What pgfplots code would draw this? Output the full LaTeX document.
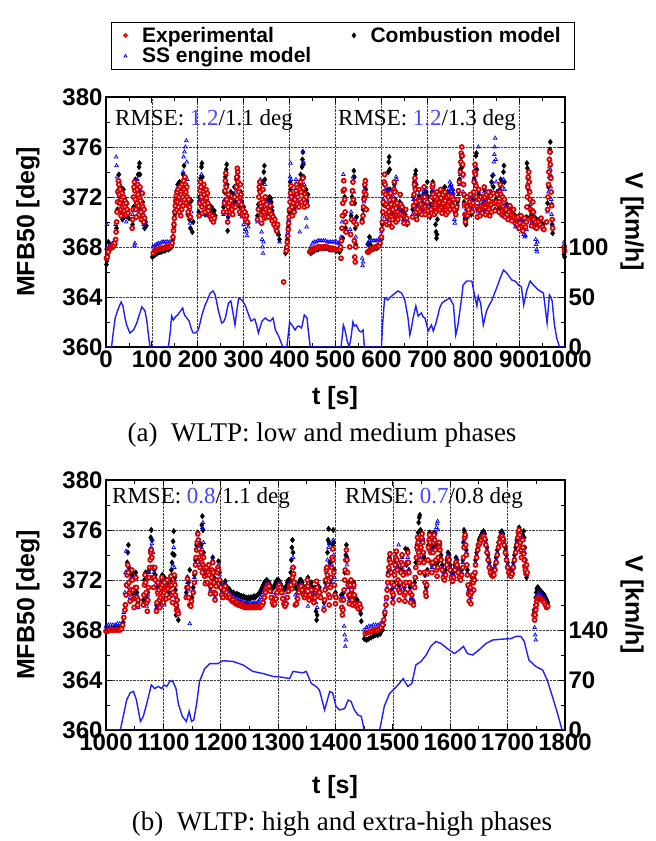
\documentclass[border=0pt]{standalone}
\usepackage{pgfplots}
\pgfplotsset{compat=1.18}
\usepackage{fontspec}
\setmainfont{Liberation Serif}
\setsansfont{Liberation Sans}
\definecolor{expred}{RGB}{215,0,0}
\definecolor{expfill}{RGB}{255,235,235}
\definecolor{ssblue}{RGB}{0,0,255}
\definecolor{vblue}{RGB}{30,30,255}
\definecolor{rmseblue}{RGB}{70,70,255}
\newcommand\lbl{\fontsize{24}{28}\selectfont\sffamily\bfseries}
\newcommand\rmse{\fontsize{23}{27}\selectfont\rmfamily}
\newcommand\capf{\fontsize{27}{31}\selectfont\rmfamily}
\pgfplotsset{
  mfb/.style={
    scale only axis, width=459pt, height=250pt, anchor=south west,
    ymin=360, ymax=380, ytick={360,364,...,380},
    minor x tick num=1, minor y tick num=1,
    grid=major, grid style={densely dotted, black!75, line width=0.7pt},
    axis line style={line width=1.1pt},
    every tick/.style={black, line width=0.9pt},
    major tick length=6pt, minor tick length=4pt,
    tick label style={font=\lbl},
    /pgf/number format/assume math mode=true,
    /pgf/number format/1000 sep={},
    clip=false,
  },
  spd/.style={
    scale only axis, width=459pt, height=250pt, anchor=south west,
    axis y line*=right, axis x line=none,
    axis line style={line width=1.1pt},
    every tick/.style={black, line width=0.9pt},
    major tick length=6pt,
    tick label style={font=\lbl},
    /pgf/number format/assume math mode=true,
    /pgf/number format/1000 sep={},
  },
  expst/.style={only marks, mark=*, mark size=2.0pt, mark options={draw=expred, fill=expfill, line width=1.7pt}},
  comst/.style={only marks, mark=diamond*, mark size=2.8pt, mark options={draw=black, fill=black}},
  ssst/.style={only marks, mark=triangle, mark size=2.1pt, mark options={draw=ssblue, line width=0.7pt}},
  vst/.style={vblue, line width=1.4pt, no marks},
}
\begin{document}
\begin{tikzpicture}
\path[use as bounding box] (0pt,0pt) rectangle (656pt,841pt);
% ================= TOP PANEL =================
\begin{axis}[mfb, at={(106pt,494pt)}, xmin=0, xmax=1000, xtick={0,100,...,1000},
  legend columns=2,
  legend image code/.code={\draw[mark repeat=2,mark phase=2,#1] plot coordinates {(0pt,0pt)(14pt,0pt)(28pt,0pt)};},
  legend style={at={(0.517,1.108)}, anchor=south, draw=black, line width=1pt,
    font=\fontsize{21}{24}\selectfont\sffamily\bfseries, inner xsep=12pt, inner ysep=3pt,
    /tikz/every odd column/.append style={column sep=13pt},
    /tikz/every even column/.append style={column sep=39pt},
    cells={anchor=west}},
]
\addlegendimage{only marks, mark=*, mark size=1.6pt, mark options={draw=expred, fill=expfill, line width=1.2pt}}\addlegendentry{Experimental}
\addlegendimage{only marks, mark=diamond*, mark size=2.2pt, mark options={draw=black, fill=black}}\addlegendentry{Combustion model}
\addlegendimage{only marks, mark=triangle, mark size=1.8pt, mark options={draw=ssblue, line width=0.7pt}}\addlegendentry{SS engine model}
% Combustion model
\addplot[comst, forget plot] coordinates {
(1,366.6)(2,366.9)(4,367.3)(5,368.4)(8,367.8)(12,367.9)(16,368.0)(20,368.2)
(23,369.5)(25,371.0)(27,372.5)(28,373.8)(29,373.2)(30,372.0)(31,371.0)(32,372.8)(33,370.5)(34,372.2)(35,371.2)(36,370.2)(37,371.8)(38,372.6)(39,371.2)(40,370.4)(41,371.9)(42,371.0)(44,370.5)(46,371.5)(48,370.8)(50,370.3)
(58,369.8)(60,371.2)(62,372.6)(64,373.4)(66,371.2)(68,372.8)(70,373.8)(72,374.4)(73,374.7)(74,373.8)(75,372.4)(76,371.0)(78,370.2)(80,371.6)(82,370.4)(84,369.5)(86,370.0)(88,369.7)
(101,367.2)(104,367.3)(108,367.4)(112,367.5)(116,367.6)(120,367.6)(124,367.7)(128,367.7)(132,367.8)(136,367.8)(140,367.9)(143,368.0)
(146,368.6)(148,369.6)(150,370.6)(152,371.6)(154,372.4)(156,373.0)(158,372.0)(160,373.2)(162,371.4)(164,373.0)(166,372.0)(168,373.8)(170,374.5)(172,373.5)(174,372.6)(176,371.8)(178,370.6)(180,371.5)(182,370.2)(184,369.5)(186,371.7)(188,369.2)(190,370.0)
(202,370.8)(204,372.0)(206,373.5)(208,374.4)(209,374.7)(210,373.6)(212,372.6)(214,371.6)(216,370.6)(218,372.2)(220,371.2)(222,370.6)(224,371.4)(226,371.0)(228,370.8)(230,371.2)(232,370.9)(234,370.6)(236,370.9)(238,370.5)
(256,371.2)(258,372.4)(260,373.6)(262,374.2)(263,374.6)(264,373.0)(265,369.3)(266,370.4)(268,372.0)(270,371.4)(272,372.4)(274,371.6)(276,371.0)(278,372.2)(280,372.8)(282,371.6)(284,373.4)(286,374.0)(288,373.6)(290,372.0)(292,371.2)(294,372.4)(296,371.6)(298,371.0)(300,371.2)(302,370.6)(304,370.8)(306,370.4)(308,370.0)(310,369.9)
(330,370.5)(332,371.4)(334,372.5)(336,373.0)(338,371.6)(340,371.0)(342,373.2)(344,374.0)(345,374.5)(346,373.4)(348,372.0)(350,371.2)(352,371.8)(354,371.4)(356,372.0)(357,371.8)(358,371.5)(359,371.9)(360,371.6)(361,371.2)(362,370.9)(363,370.6)(364,370.4)(366,370.1)(368,369.8)(370,369.5)(372,369.4)(374,369.2)(376,369.0)(378,368.6)
(391,367.5)(393,367.9)(395,368.6)(397,369.6)(399,370.8)(401,373.2)(402,372.6)(404,371.0)(406,370.6)(408,371.8)(410,371.0)(412,372.2)(414,373.0)(416,372.0)(418,371.4)(420,372.4)(422,373.0)(424,373.8)(426,372.6)(427,374.4)(428,375.0)(429,375.6)(430,374.6)(431,373.6)(432,372.4)(434,371.8)(436,372.6)(438,371.6)(440,372.2)
(446,367.5)(450,367.6)(454,367.7)(458,367.8)(462,367.8)(466,367.9)(470,367.9)(474,367.9)(478,367.9)(482,367.9)(486,367.8)(490,367.8)(494,367.8)(498,367.8)(502,367.7)(506,367.7)(509,367.6)
(512,367.8)(514,368.6)(516,368.7)(518,370.5)(520,372.0)(522,369.5)(532,369.0)(534,370.5)(536,372.0)(538,373.2)(540,374.1)(541,373.6)(542,371.5)(543,369.5)(544,368.2)(546,370.4)(558,370.2)(560,371.0)(562,372.0)(564,372.8)(565,373.3)(566,372.6)(568,371.0)
(571,368.2)(574,368.8)(576,368.2)(579,367.9)(582,367.8)(586,367.9)(590,367.9)(594,368.0)(597,368.2)
(600,368.6)(602,369.8)(604,371.4)(606,373.0)(608,373.8)(610,372.4)(612,370.6)(614,372.6)(615,374.0)(616,374.8)(617,375.2)(618,374.2)(619,372.6)(620,371.2)(622,370.8)(624,370.4)(626,371.6)(628,373.0)(630,371.8)(632,370.4)(634,371.4)(636,370.8)(638,371.2)(640,371.6)(642,371.2)(644,370.8)(646,371.1)(648,370.6)(650,370.2)(652,370.6)(654,370.2)(656,369.8)
(668,371.0)(670,372.0)(672,373.2)(674,373.8)(675,374.1)(676,373.0)(678,371.4)(680,370.6)(682,372.0)(684,371.4)(686,370.8)(688,371.6)(690,371.0)(692,372.2)(694,372.8)(696,371.4)(698,372.4)(700,373.2)(702,372.0)(704,370.8)(706,370.4)
(708,371.4)(710,372.4)(712,373.2)(714,371.8)(716,370.8)(718,369.8)(719,369.2)(720,368.7)(721,369.0)(722,370.2)(724,371.6)(726,372.2)(728,371.6)(730,372.4)(732,371.2)(734,372.6)(736,371.4)(738,372.8)(740,372.2)(742,371.0)(744,372.4)(746,371.6)(748,372.0)(750,371.2)(752,371.6)(754,372.2)(756,371.4)(758,371.8)(760,370.8)
(764,371.0)(766,371.6)(768,372.4)(770,373.4)(772,374.2)(774,375.2)(776,374.4)(778,373.0)(780,371.6)(782,370.2)(784,369.8)(786,371.0)(788,370.4)(790,371.4)(792,372.0)(794,371.2)(796,370.6)
(800,371.8)(802,373.4)(804,374.6)(806,375.3)(807,375.5)(808,374.2)(809,372.0)(810,370.4)(812,372.2)(814,371.2)(816,370.8)(818,372.0)(820,371.0)
(822,371.4)(824,372.6)(826,371.8)(828,370.9)(830,372.0)(832,371.4)(834,372.2)(836,371.0)(838,372.4)(840,373.2)(842,373.7)(844,372.8)(846,371.6)(848,371.0)(850,371.8)(852,372.4)(854,371.6)
(856,371.0)(858,372.6)(860,373.4)(862,372.0)(864,373.2)(866,374.0)(867,374.5)(868,373.2)(870,371.2)(872,370.8)(874,371.4)(876,371.0)(878,370.6)(880,371.2)(882,370.8)(884,370.5)(886,371.0)(888,370.6)(890,370.2)(892,370.5)(894,370.0)
(896,370.3)(898,369.8)(900,370.5)(902,370.2)(904,369.7)(906,370.0)(908,369.6)(910,370.1)(912,369.5)(914,369.9)(916,370.4)
(917,374.7)(918,374.3)(919,373.5)(920,372.6)(922,371.2)(924,370.4)(926,370.8)(928,370.2)(930,370.6)(932,370.0)(934,369.8)(936,370.3)(938,369.8)(940,370.0)(944,370.2)(948,370.0)(952,369.8)
(962,371.5)(964,372.8)(965,374.0)(966,375.0)(967,375.8)(968,376.4)(969,375.6)(970,373.6)(971,371.4)(972,369.8)(973,369.1)
(998,367.4)(999,367.2)
};
% SS engine model
\addplot[ssst, forget plot] coordinates {
(1,367.9)(2,369.8)(3,367.8)(6,367.9)(10,368.2)(14,368.3)(18,368.4)(21,369.8)
(22,375.2)(23,374.5)(24,373.6)(26,372.6)(28,371.6)(30,373.0)(32,372.0)(34,370.8)(36,372.4)(38,371.2)(40,370.4)(42,371.6)(44,370.0)(46,370.6)
(56,369.6)(58,370.6)(60,372.0)(62,368.1)(63,368.3)(64,371.8)(66,372.8)(68,373.4)(70,372.2)(72,371.0)(74,372.6)(76,371.4)(78,370.4)(80,370.8)(82,369.8)(84,369.6)(86,369.9)
(102,368.0)(106,368.1)(110,368.2)(114,368.3)(118,368.3)(122,368.4)(126,368.4)(130,368.4)(134,368.4)(138,368.4)(142,368.4)
(146,368.9)(148,370.0)(150,371.0)(152,372.0)(154,372.6)(156,371.6)(158,372.8)(160,371.8)(162,372.6)(164,371.4)(166,373.0)(168,374.0)(169,375.2)(171,375.6)(173,376.0)(175,376.5)(176,374.8)(177,373.4)(178,372.0)(180,370.8)(182,371.4)(183,369.9)(186,370.8)
(202,370.6)(204,371.8)(206,373.2)(208,373.8)(210,372.8)(212,371.6)(214,370.8)(216,372.0)(218,371.0)(220,370.5)(222,371.6)(224,370.8)(226,370.6)(228,370.4)(230,370.6)(234,370.4)
(256,370.6)(258,371.8)(260,373.0)(262,373.8)(264,372.2)(266,370.4)(268,371.4)(270,372.0)(274,370.8)(278,371.6)(282,372.4)(284,373.0)(286,373.8)(288,372.8)(290,371.4)(292,370.6)(294,371.8)(296,370.4)(300,369.8)(304,369.4)(306,369.2)(307,368.9)(310,369.6)
(330,370.0)(332,371.2)(334,372.6)(336,373.4)(338,371.0)(339,369.2)(340,368.6)(341,368.0)(342,367.5)(343,368.4)(344,371.6)(346,373.0)(348,371.8)(350,370.8)(352,371.4)(354,370.6)(356,371.6)(358,371.0)(360,370.4)(362,370.8)(364,370.2)(366,369.8)(368,370.0)(370,369.4)(372,369.2)(374,369.6)(376,369.0)(378,368.4)
(392,367.8)(394,368.4)(396,369.2)(398,370.2)(400,372.0)(401,373.6)(402,374.7)(403,373.4)(404,372.2)(406,371.0)(408,372.0)(410,371.2)(412,372.6)(414,373.4)(416,372.4)(418,371.6)(420,372.6)(422,369.2)(424,373.4)(426,372.8)(428,374.6)(429,375.6)(430,374.8)(432,373.0)(434,372.0)(436,370.3)(437,369.6)(438,371.8)
(446,368.0)(450,368.3)(454,368.4)(458,368.4)(462,368.5)(466,368.5)(470,368.5)(474,368.5)(478,368.5)(482,368.4)(486,368.4)(490,368.4)(494,368.4)(498,368.4)(502,368.4)(506,368.3)(509,368.3)
(512,368.8)(514,370.0)(516,372.4)(517,373.8)(518,372.6)(520,370.6)(522,369.2)(532,369.4)(534,370.8)(536,372.4)(538,373.6)(540,372.4)(542,370.2)(544,368.8)(558,367.1)(559,366.5)(560,366.8)(561,370.6)(562,371.6)(564,372.6)(566,372.0)
(570,368.3)(574,368.5)(578,368.5)(582,368.5)(586,368.5)(590,368.5)(594,368.6)(597,368.6)
(600,369.2)(602,370.4)(604,371.8)(606,373.0)(608,372.6)(610,371.2)(612,370.2)(614,371.6)(616,372.6)(618,371.0)(620,372.0)(622,370.6)(624,371.2)(626,372.0)(628,372.8)(630,373.2)(632,373.6)(633,373.4)(634,372.4)(636,371.0)(638,370.6)(640,371.6)(642,370.8)(645,371.4)(648,370.2)(651,370.6)(654,369.8)(656,370.2)
(668,370.6)(670,371.8)(672,372.8)(674,373.2)(676,371.2)(678,370.6)(680,371.8)(682,372.2)(684,371.2)(686,371.8)(688,371.0)(690,371.6)(692,372.4)(694,372.6)(696,372.0)(698,371.4)(700,372.0)(702,371.2)(704,370.8)
(708,371.2)(710,372.2)(712,372.6)(714,371.6)(716,370.6)(718,371.4)(720,372.0)(722,371.4)(724,372.0)(726,371.2)(728,372.0)(730,371.6)(732,372.2)(734,371.4)(736,372.0)(738,371.6)(740,370.8)(742,371.6)(744,372.0)(746,372.4)(748,372.8)(749,373.2)(750,372.9)(751,372.6)(752,373.0)(753,372.4)(754,372.7)(755,372.2)(756,372.6)(757,372.3)(758,372.0)(759,370.2)(760,369.9)
(766,371.4)(768,372.2)(770,373.0)(772,373.8)(774,374.6)(776,373.6)(778,372.4)(780,371.2)(782,370.4)(784,370.0)(786,371.0)(790,371.4)(794,371.8)(798,371.0)
(800,372.0)(802,373.6)(804,374.2)(806,373.2)(808,371.8)(810,370.8)(811,376.0)(812,372.4)(814,371.4)(816,371.0)(818,371.8)(820,371.2)
(822,371.6)(824,372.4)(826,371.6)(828,371.0)(830,371.8)(832,372.2)(834,371.4)(836,370.8)(838,371.6)(840,372.4)(842,373.0)(844,373.8)(845,374.8)(846,375.4)(847,376.0)(848,376.7)(849,375.0)(850,373.2)(852,372.4)(854,371.6)
(856,371.2)(858,372.4)(860,373.0)(862,372.2)(864,372.8)(866,373.4)(868,372.6)(870,371.4)(872,370.8)(874,371.2)(876,370.6)(878,371.0)(880,370.8)(882,370.4)(884,370.6)(886,371.0)(888,370.4)(890,370.0)(892,369.6)(894,369.8)
(896,369.6)(898,370.0)(900,369.4)(902,369.8)(904,370.2)(906,369.6)(908,369.2)(910,369.0)(912,368.8)(914,368.9)(916,369.4)
(918,373.0)(920,373.6)(922,372.6)(924,371.4)(926,370.6)(928,370.0)(930,370.8)(932,370.2)(934,369.6)(936,368.6)(937,368.2)(938,367.8)(939,367.6)(940,368.4)(944,369.8)(948,369.6)(952,369.4)
(962,370.8)(964,372.4)(965,373.6)(966,374.4)(967,375.0)(968,374.2)(969,372.8)(970,371.8)(971,370.6)(972,369.8)
(998,368.4)(999,368.2)
};
% Experimental
\addplot[expst, forget plot] coordinates {
(1,367.1)(3,367.2)(5,367.6)(7,367.9)(9,368.0)(11,368.0)(13,368.0)(15,368.1)(17,368.1)(19,368.3)(21,368.6)
(22,369.2)(23,370.0)(24,370.8)(25,371.6)(26,372.4)(27,373.3)(28,373.0)(29,372.2)(30,371.5)(31,372.6)(32,371.0)(33,370.5)(34,371.8)(35,372.3)(36,371.2)(37,370.8)(38,372.0)(39,371.4)(40,370.9)(41,371.7)(42,371.2)(43,370.6)(44,371.5)(46,371.0)(48,370.7)
(57,369.5)(58,370.2)(59,371.0)(60,372.0)(61,372.8)(62,373.2)(63,372.5)(64,371.8)(65,371.0)(66,370.4)(67,371.5)(68,372.6)(69,373.0)(70,372.2)(71,371.3)(72,370.6)(73,371.9)(74,372.8)(75,371.7)(76,370.8)(77,370.2)(78,371.4)(79,372.3)(80,371.2)(81,370.5)(82,370.0)(83,371.0)(84,370.3)
(103,367.5)(106,367.7)(109,367.8)(112,367.8)(115,367.8)(118,367.9)(121,367.9)(124,367.9)(127,367.9)(130,368.0)(133,368.0)(136,368.0)(139,368.0)(142,368.1)
(144,368.3)(146,368.8)(147,369.3)(148,369.8)(149,370.3)(150,370.8)(151,371.3)(152,371.7)(153,372.1)(154,371.0)(155,372.4)(156,371.6)(157,372.6)(158,371.2)(159,372.0)(160,370.8)(161,372.8)(162,371.5)(163,370.5)(164,372.2)(165,371.0)(166,373.0)(167,372.0)(168,371.3)(169,373.3)(170,372.6)(171,371.8)(172,373.6)(173,373.0)(174,372.4)(175,371.5)(176,372.8)(177,372.0)(178,371.3)(179,370.8)(180,371.8)(181,370.5)(182,371.2)(184,370.4)
(203,370.5)(204,371.5)(205,372.5)(206,373.2)(207,372.8)(208,372.0)(209,371.2)(210,370.7)(211,371.6)(212,372.4)(213,373.0)(214,372.2)(215,371.4)(216,370.8)(217,371.8)(218,372.6)(219,371.9)(220,371.0)(221,372.3)(222,371.5)(223,370.9)(224,371.2)(226,370.6)(228,370.4)(230,370.2)(232,370.5)(234,370.0)(236,370.3)
(256,370.8)(258,371.5)(259,372.5)(260,373.3)(261,373.9)(262,372.8)(263,371.8)(264,370.8)(265,370.0)(266,371.2)(267,372.2)(268,371.5)(270,370.8)(272,371.7)(274,371.0)(276,370.6)(278,371.3)(280,372.0)(282,371.2)(284,372.8)(285,373.6)(286,374.3)(287,374.0)(288,373.2)(289,372.4)(290,371.6)(291,370.8)(292,372.0)(293,373.0)(294,372.2)(295,371.4)(296,370.6)(298,371.0)(300,370.5)(302,370.8)(304,370.2)(306,370.5)(308,370.0)
(330,370.2)(332,371.0)(333,372.0)(334,372.8)(335,373.2)(336,372.4)(337,371.5)(338,370.6)(339,369.9)(340,370.8)(341,371.8)(342,372.6)(343,371.6)(344,370.8)(345,370.3)(346,371.2)(347,372.0)(348,371.0)(349,370.4)(350,371.4)(352,370.8)(354,370.4)(356,370.9)(358,371.3)(360,370.6)(362,370.1)(364,370.4)(366,369.8)(368,370.2)(370,369.6)(372,369.3)(374,369.8)
(387,365.2)
(393,367.7)(394,368.0)(395,368.4)(396,368.9)(397,369.4)(398,369.9)(399,370.4)(400,371.0)(401,371.6)(402,372.3)(403,372.9)(404,372.0)(405,371.2)(406,370.5)(408,371.5)(410,370.8)(412,371.8)(414,372.5)(415,373.0)(416,372.2)(417,371.4)(418,372.0)(420,371.2)(422,372.6)(424,373.2)(425,372.4)(426,371.6)(428,372.8)(429,373.5)(430,372.7)(431,371.8)(432,371.2)(433,372.2)(434,371.5)(436,372.0)(438,371.3)
(444,367.6)(446,367.7)(449,367.8)(452,367.9)(455,367.9)(458,367.9)(461,368.0)(464,368.0)(467,368.0)(470,367.9)(473,368.0)(476,368.0)(479,368.0)(482,368.0)(485,367.9)(488,367.9)(491,367.9)(494,367.9)(497,367.8)(500,367.8)(503,367.8)(506,367.8)(509,367.8)
(511,368.0)(512,367.1)(513,368.5)(514,369.5)(515,370.5)(516,371.5)(517,372.5)(518,373.3)(519,372.6)(520,371.8)(521,370.8)(522,370.0)(523,369.2)
(531,368.0)(533,369.0)(535,370.2)(536,371.5)(537,372.5)(538,373.2)(539,371.8)(540,370.0)(541,368.5)(542,367.2)(543,366.8)(544,368.0)(545,369.8)
(558,370.0)(560,370.5)(561,371.2)(562,371.8)(563,372.4)(564,373.0)(565,373.3)(566,372.2)(567,371.0)
(570,367.6)(572,367.6)(574,367.7)(576,367.8)(578,367.8)(580,367.9)(583,367.9)(586,368.0)(589,368.0)(592,368.1)(595,368.1)(597,368.3)
(600,368.8)(601,369.4)(602,370.0)(603,370.8)(604,371.6)(605,372.4)(606,373.2)(607,373.8)(608,373.0)(609,372.2)(610,371.4)(611,370.6)(612,369.8)(613,370.4)(614,371.2)(615,372.0)(616,370.8)(617,369.9)(618,370.5)(619,371.5)(620,372.3)(621,371.4)(622,370.4)(623,369.6)(624,370.2)(625,371.0)(626,371.8)(627,372.6)(628,373.2)(629,372.4)(630,371.4)(631,370.6)(632,370.0)(633,370.6)(634,371.5)(635,370.8)(636,370.2)(638,370.6)(640,371.3)(641,372.2)(642,371.4)(643,370.6)(645,371.2)(647,370.5)(649,369.9)(651,370.4)(653,371.0)(655,370.3)(657,369.9)
(668,370.4)(670,371.3)(671,372.2)(672,373.0)(673,373.5)(674,372.6)(675,371.6)(676,370.8)(677,370.2)(679,371.0)(681,371.8)(682,372.6)(683,371.7)(684,370.8)(686,371.4)(688,370.6)(690,371.2)(692,372.0)(693,372.8)(694,372.0)(695,371.2)(696,370.6)(698,371.0)(700,371.6)(702,370.9)(704,370.5)
(708,371.0)(710,372.0)(711,372.8)(712,373.0)(713,372.2)(714,371.4)(715,370.6)(716,371.2)(717,372.0)(718,371.4)(719,370.8)(720,371.6)(721,372.4)(722,371.8)(723,371.0)(724,371.5)(725,372.2)(726,371.6)(727,371.0)(728,371.8)(729,372.6)(730,371.9)(731,371.2)(732,370.7)(733,371.4)(734,372.2)(735,371.5)(736,371.0)(737,371.8)(738,372.4)(739,371.7)(740,371.0)(741,370.6)(742,371.2)(743,372.0)(744,371.4)(745,370.8)(746,371.3)(747,372.1)(748,371.6)(749,371.0)(751,371.4)(753,372.0)(755,371.3)(757,371.8)(759,371.0)
(762,370.6)(764,371.2)(766,371.8)(768,372.5)(770,373.2)(772,374.0)(773,374.8)(774,375.5)(775,376.0)(776,375.3)(777,374.6)(778,373.8)(779,373.0)(780,372.2)(781,371.4)(782,370.6)(783,370.0)(784,370.6)(785,371.3)(786,372.0)(787,371.2)(788,370.5)(790,371.0)(792,371.6)(794,372.2)(796,371.4)(798,370.8)
(800,371.5)(801,372.4)(802,373.2)(803,374.0)(804,374.6)(805,373.8)(806,372.9)(807,372.0)(808,371.2)(809,370.4)(810,371.0)(811,371.8)(812,372.6)(813,371.8)(814,371.0)(815,370.5)(816,371.2)(817,372.0)(818,371.3)(820,370.7)
(822,371.2)(823,372.0)(824,372.8)(825,372.0)(826,371.2)(827,370.6)(828,371.4)(829,372.2)(830,371.5)(831,370.8)(832,371.6)(833,372.4)(834,371.7)(835,371.0)(836,370.5)(837,371.3)(838,372.1)(839,371.4)(840,370.8)(842,371.6)(844,372.3)(846,371.5)(848,370.9)(850,371.6)(852,372.2)(854,371.4)
(856,370.8)(857,371.6)(858,372.4)(859,373.0)(860,372.2)(861,371.4)(862,370.6)(863,371.2)(864,372.0)(865,371.2)(866,370.5)(867,371.0)(868,371.8)(869,371.0)(870,370.4)(872,371.0)(874,370.6)(876,370.2)(878,370.8)(880,371.3)(882,370.6)(884,370.1)(886,370.5)(888,371.0)(890,370.4)(892,369.9)(894,370.3)
(896,369.8)(898,370.4)(900,369.5)(902,369.9)(904,370.5)(906,369.7)(908,369.3)(910,369.8)(912,370.3)(914,369.6)(916,370.0)
(917,371.2)(918,372.0)(919,372.8)(920,373.6)(921,374.0)(922,373.2)(923,372.4)(924,371.8)(925,371.0)(926,370.3)(927,369.7)(928,370.2)(929,370.9)(930,371.6)(931,370.8)(932,370.2)(934,369.6)(936,370.0)(938,369.5)
(942,370.0)(945,369.8)(948,370.3)(951,369.6)(954,369.4)
(960,370.0)(962,371.0)(963,372.0)(964,373.0)(965,374.0)(966,375.0)(967,375.6)(968,374.6)(969,373.5)(970,372.4)(971,371.3)(972,370.2)(973,369.5)
(998,368.0)(999,367.7)
};
\end{axis}
\begin{axis}[spd, at={(106pt,494pt)}, xmin=0, xmax=1000, ymin=0, ymax=250, ytick={0,50,100}]
\addplot[vst] coordinates {
(0,0)(12,0)(16,15)(20,29)(25,36)(30,42)(33,45)(37,41)(41,30)(45,22)(52,14)(60,17)(67,24)(73,33)(78,40)(82,38)(85,36)(89,26)(93,10)(96,0)(136,0)(140,15)(143,31)(147,27)(151,30)(156,32)(161,35)(167,39)(171,32)(176,29)(181,26)(186,18)(190,14)(195,14)(201,17)(205,24)(209,32)(216,42)(222,48)(227,54)(233,56)(238,52)(245,36)(252,24)(256,25)(260,29)(264,38)(267,44)(272,46)(276,36)(281,22)(285,36)(289,49)(296,47)(303,42)(311,32)(316,26)(324,28)(328,22)(332,14)(336,20)(340,26)(347,29)(352,27)(358,26)(364,29)(369,17)(376,11)(381,5)(385,0)(394,0)(397,12)(400,25)(405,22)(412,17)(416,20)(420,21)(426,19)(429,25)(432,32)(438,29)(441,15)(445,0)(512,0)(515,12)(517,22)(520,18)(522,14)(526,5)(530,0)(534,10)(538,25)(541,21)(545,22)(552,16)(556,15)(560,17)(563,0)(600,0)(603,25)(607,49)(614,47)(620,50)(625,52)(636,56)(644,54)(651,47)(658,29)(662,12)(665,18)(669,29)(675,41)(680,31)(687,34)(691,30)(695,29)(702,16)(709,22)(713,16)(719,24)(727,39)(732,44)(738,46)(749,49)(757,42)(762,12)(766,20)(771,36)(775,50)(778,62)(786,66)(797,66)(802,54)(808,41)(811,51)(816,44)(822,22)(829,36)(835,42)(840,46)(851,59)(859,69)(866,77)(873,74)(884,67)(891,66)(899,62)(905,60)(910,42)(917,57)(924,66)(931,62)(942,57)(953,54)(961,24)(966,52)(969,50)(972,46)(977,22)(982,9)(988,0)(1000,0)
};
\end{axis}
% ================= BOTTOM PANEL =================
\begin{axis}[mfb, at={(106pt,111pt)}, xmin=1000, xmax=1800, xtick={1000,1100,...,1800}]
\addplot[comst] coordinates {
(1000,368.0)(1005,368.1)(1010,368.1)(1015,368.2)(1020,368.2)(1025,368.2)(1030,368.6)
(1033,370.0)(1035,371.6)(1037,373.4)(1038,374.2)(1039,374.8)(1040,373.0)(1042,371.0)(1044,372.6)(1046,372.4)(1048,370.8)(1050,371.2)(1052,372.6)(1054,371.0)(1056,370.2)
(1065,370.4)(1067,372.0)(1069,372.6)(1071,370.6)(1073,371.0)(1075,372.8)(1077,374.4)(1078,375.4)(1079,376.0)(1080,375.2)(1082,373.0)(1084,372.8)(1086,372.4)
(1088,370.0)(1090,371.4)(1092,371.8)(1094,370.2)(1096,371.8)(1098,372.4)(1100,371.2)(1102,372.2)(1104,371.6)(1106,371.8)(1108,371.6)(1110,371.0)(1112,372.0)(1114,372.8)(1115,373.4)(1116,374.1)(1117,375.1)(1118,375.9)(1119,374.0)(1120,372.2)(1121,371.2)(1122,369.2)(1124,370.0)(1126,368.8)
(1140,371.0)(1142,372.2)(1144,371.8)(1146,372.8)(1148,370.4)(1150,370.6)
(1152,371.4)(1154,372.4)(1156,373.6)(1158,374.8)(1160,375.8)(1162,375.0)(1164,373.6)(1166,374.8)(1167,376.4)(1168,377.1)(1169,376.0)(1170,374.2)(1172,372.8)(1174,373.0)(1176,372.8)(1178,373.2)(1180,372.8)
(1182,371.4)(1184,372.6)(1186,373.8)(1188,372.2)(1190,370.8)(1192,371.9)(1194,372.8)(1196,373.5)
(1198,372.6)(1200,371.8)(1202,371.2)(1204,371.2)(1206,371.6)(1208,371.9)(1210,371.5)(1212,371.2)(1214,371.3)(1216,371.2)(1218,371.0)(1220,370.9)(1222,371.0)(1224,370.9)(1226,370.8)(1228,370.9)(1230,370.8)(1232,370.8)(1234,370.7)(1236,370.7)(1238,370.6)(1240,370.7)(1242,370.6)(1244,370.6)(1246,370.5)(1248,370.6)(1250,370.5)(1252,370.6)(1254,370.6)(1256,370.6)(1258,370.7)(1260,370.6)(1262,370.7)(1264,370.8)(1266,370.9)(1268,371.0)(1270,371.2)(1272,371.4)(1274,371.6)(1276,371.8)(1278,371.9)(1280,372.0)(1282,371.9)(1284,371.8)(1286,371.6)(1288,371.4)(1290,371.3)(1292,371.4)(1294,371.6)(1296,371.8)(1298,372.0)(1300,372.0)(1302,371.9)(1304,371.7)(1306,371.5)(1308,371.3)(1310,371.2)(1312,371.3)(1314,371.5)(1316,371.8)(1318,372.0)(1320,372.0)(1322,372.6)(1323,373.6)(1324,374.6)(1325,375.2)(1326,374.2)(1327,373.0)(1328,371.8)(1330,371.4)(1332,371.3)(1334,371.5)(1336,371.8)(1338,372.0)(1340,372.0)(1342,371.8)(1344,371.5)(1346,371.3)(1348,371.4)(1350,372.0)(1352,372.2)(1354,371.4)(1356,371.6)(1358,371.8)(1360,371.4)(1362,371.2)(1364,371.4)(1366,369.5)(1367,368.8)(1368,369.2)(1370,371.5)(1372,371.4)(1374,371.0)
(1380,370.2)(1382,371.8)(1384,373.0)(1386,374.2)(1387,375.2)(1388,376.1)(1389,375.0)(1390,373.4)(1392,372.0)(1394,373.6)(1395,374.8)(1396,376.0)(1397,375.0)(1398,372.8)(1400,371.0)
(1410,370.8)(1412,369.8)(1414,371.0)(1416,372.6)(1418,374.0)(1419,374.8)(1420,373.8)(1422,371.8)(1424,370.6)(1426,371.8)(1428,371.0)(1430,370.6)(1432,371.8)(1434,370.6)(1436,370.4)(1438,370.4)(1440,370.0)(1442,369.6)(1444,369.3)(1445,368.7)
(1450,367.3)(1454,367.2)(1458,367.3)(1462,367.4)(1466,367.5)(1470,367.6)(1474,367.6)(1478,367.7)(1482,368.0)
(1484,368.4)(1486,369.2)(1488,370.0)(1490,371.2)(1492,372.6)(1494,373.8)(1496,372.6)(1498,371.2)(1500,370.6)(1502,371.8)(1504,373.4)(1506,374.2)(1508,373.0)(1510,371.6)(1512,371.2)(1514,372.8)(1516,374.0)(1518,372.6)(1520,371.4)(1522,374.5)(1524,373.2)(1526,374.4)(1528,372.8)(1530,371.4)(1532,370.4)(1534,371.6)(1536,370.2)
(1538,371.8)(1540,373.4)(1542,374.8)(1544,375.8)(1545,376.6)(1546,377.0)(1547,377.2)(1548,376.0)(1550,375.8)(1552,375.2)(1554,373.8)(1556,372.4)(1558,371.4)(1560,372.8)(1562,374.8)(1564,375.8)(1566,374.6)(1568,373.2)(1570,374.6)(1572,375.8)(1574,374.8)(1576,373.2)(1578,373.4)(1580,374.8)(1582,374.8)
(1584,374.0)(1586,373.2)(1588,372.6)(1590,372.3)(1592,372.8)(1594,373.6)(1596,374.2)(1598,374.0)(1600,373.2)(1602,372.6)(1604,372.3)(1606,372.6)(1608,373.2)(1610,373.8)(1612,373.6)(1614,373.0)(1616,372.6)(1618,372.4)(1620,372.8)
(1622,373.6)(1623,375.0)(1624,376.0)(1625,375.8)(1626,375.4)(1628,374.4)(1630,372.8)(1632,371.4)(1634,371.4)(1636,370.8)(1638,372.2)(1640,372.2)(1642,372.4)(1644,373.6)
(1646,374.2)(1648,374.8)(1650,375.2)(1652,375.4)(1654,375.6)(1656,375.8)(1658,375.9)(1660,375.7)(1662,375.2)(1664,374.6)(1666,374.0)(1668,373.4)(1670,373.0)(1672,372.8)(1674,372.6)(1676,372.8)(1678,373.2)(1680,373.8)(1682,374.4)(1684,375.0)(1686,375.4)(1688,375.8)(1690,375.9)(1692,375.7)(1694,375.2)(1696,374.6)(1698,374.0)(1700,373.4)(1702,373.0)(1704,372.8)(1706,372.6)(1708,372.8)(1710,373.4)(1712,374.0)(1714,374.6)(1716,375.2)(1718,375.8)(1720,376.2)(1722,375.6)(1724,374.6)(1726,375.6)(1728,375.9)(1729,375.4)(1730,374.6)(1731,373.6)(1732,372.8)(1733,372.2)
(1746,369.6)(1747,369.4)(1748,370.0)(1749,370.6)(1750,371.0)(1751,371.3)(1752,371.4)(1753,371.4)(1754,371.3)(1756,371.2)(1758,371.1)(1760,371.0)(1762,370.9)(1764,370.8)(1766,370.6)(1768,370.4)(1770,370.2)
};
\addplot[ssst] coordinates {
(1000,368.3)(1004,368.4)(1008,368.4)(1012,368.4)(1016,368.4)(1020,368.5)(1024,368.5)(1028,368.5)
(1031,369.4)(1033,371.0)(1034,372.6)(1035,374.3)(1036,372.4)(1038,372.8)(1040,371.4)(1042,370.6)(1044,372.2)(1046,372.0)(1048,370.4)(1050,371.0)(1052,372.0)(1054,370.8)(1056,369.8)
(1065,370.2)(1067,371.8)(1069,372.0)(1071,369.9)(1073,370.8)(1075,372.6)(1077,373.8)(1079,374.6)(1080,374.9)(1081,375.2)(1082,374.2)(1084,372.6)(1086,371.6)
(1088,369.8)(1090,370.8)(1092,371.6)(1094,370.0)(1096,371.2)(1098,372.0)(1100,370.6)(1102,370.0)(1104,371.4)(1106,371.2)(1108,371.6)(1110,370.8)(1112,371.6)(1114,372.4)(1116,373.2)(1118,374.6)(1119,373.0)(1120,371.8)(1122,370.6)(1124,369.8)(1126,369.6)
(1140,370.8)(1142,371.8)(1144,371.2)(1146,368.5)(1148,370.2)
(1152,371.2)(1154,372.2)(1156,373.4)(1158,374.6)(1160,375.6)(1162,374.8)(1164,373.4)(1166,374.6)(1168,376.2)(1169,376.6)(1170,375.0)(1172,372.6)(1174,372.8)(1176,372.6)(1178,373.0)(1180,372.6)
(1182,371.2)(1184,372.4)(1186,373.6)(1188,372.0)(1190,370.6)(1192,371.7)(1194,372.6)(1196,373.2)
(1198,372.4)(1200,371.6)(1202,371.0)(1204,370.9)(1206,371.4)(1208,371.7)(1210,371.3)(1212,370.9)(1214,371.0)(1216,370.9)(1218,370.7)(1220,370.6)(1222,370.7)(1224,370.5)(1226,370.4)(1228,370.5)(1230,370.3)(1232,370.4)(1234,370.3)(1236,370.2)(1238,370.3)(1240,370.2)(1242,370.1)(1244,370.2)(1246,370.1)(1248,370.1)(1250,370.1)(1252,370.2)(1254,370.1)(1256,370.1)(1258,370.2)(1260,370.1)(1262,370.1)(1264,370.2)(1266,370.3)(1268,370.4)(1270,370.6)(1272,370.8)(1274,371.0)(1276,371.3)(1278,371.5)(1280,371.7)(1282,371.8)(1284,371.7)(1286,371.4)(1288,371.0)(1290,370.6)(1292,370.5)(1294,370.7)(1296,371.0)(1298,371.4)(1300,371.7)(1302,371.8)(1304,371.6)(1306,371.3)(1308,370.9)(1310,370.5)(1312,370.4)(1314,370.6)(1316,371.0)(1318,371.4)(1320,371.7)(1322,371.8)(1324,373.0)(1326,373.8)(1328,372.4)(1330,370.8)(1332,370.6)(1334,370.9)(1336,371.3)(1338,371.6)(1340,371.7)(1342,371.5)(1344,371.1)(1346,370.8)(1348,371.0)(1350,371.6)(1352,369.9)(1354,370.8)(1356,371.0)(1358,371.4)(1360,370.9)(1362,370.5)(1364,370.8)(1366,370.2)(1368,369.8)(1370,371.0)(1372,371.2)(1374,370.8)
(1380,369.9)(1382,371.4)(1384,372.6)(1386,373.6)(1388,374.6)(1389,374.9)(1390,373.2)(1392,371.8)(1394,373.2)(1395,374.4)(1396,375.2)(1397,374.0)(1398,372.2)(1400,370.6)
(1410,370.6)(1412,369.6)(1414,370.6)(1415,368.3)(1416,367.6)(1417,366.7)(1418,367.2)(1419,374.0)(1420,373.2)(1422,371.4)(1424,370.4)(1426,371.4)(1428,370.8)(1430,370.3)(1432,371.4)(1434,370.3)(1436,370.0)(1438,370.2)(1440,369.8)(1442,369.8)(1444,369.4)
(1450,368.0)(1454,368.2)(1458,368.3)(1462,368.3)(1466,368.4)(1470,368.4)(1474,368.4)(1478,368.5)(1482,368.7)
(1484,368.8)(1486,369.6)(1488,370.4)(1490,371.4)(1492,372.6)(1494,373.6)(1496,372.8)(1498,371.6)(1500,370.6)(1502,371.4)(1504,372.8)(1506,373.8)(1508,373.2)(1510,374.8)(1512,371.4)(1514,372.6)(1516,373.8)(1518,372.8)(1520,371.2)(1522,370.4)(1524,372.4)(1526,373.8)(1528,372.8)(1530,371.6)(1532,370.6)(1534,371.4)(1536,370.4)
(1538,371.6)(1540,373.0)(1542,374.4)(1544,375.2)(1546,374.4)(1548,373.8)(1550,375.2)(1552,375.4)(1554,374.0)(1556,372.4)(1558,371.2)(1560,372.4)(1562,374.4)(1564,375.4)(1566,374.6)(1568,373.0)(1570,374.2)(1572,375.4)(1574,375.8)(1576,376.2)(1577,376.5)(1578,376.7)(1579,376.0)(1580,375.0)(1582,374.6)
(1584,373.8)(1586,373.0)(1588,372.4)(1590,372.2)(1592,372.6)(1594,373.4)(1596,374.0)(1598,373.8)(1600,373.0)(1602,372.4)(1604,372.1)(1606,372.4)(1608,373.0)(1610,373.6)(1612,373.4)(1614,372.8)(1616,372.4)(1618,372.2)(1620,372.6)
(1622,373.4)(1624,375.2)(1626,375.6)(1628,374.2)(1630,372.6)(1632,371.2)(1634,371.2)(1636,370.6)(1638,372.0)(1640,372.0)(1642,372.2)(1644,373.4)
(1646,374.0)(1648,374.6)(1650,375.0)(1652,375.2)(1654,375.4)(1656,375.6)(1658,375.7)(1660,375.5)(1662,375.0)(1664,374.4)(1666,373.8)(1668,373.2)(1670,372.8)(1672,372.6)(1674,372.5)(1676,372.6)(1678,373.0)(1680,373.6)(1682,374.2)(1684,374.8)(1686,375.2)(1688,375.6)(1690,375.7)(1692,375.5)(1694,375.0)(1696,374.4)(1698,373.8)(1700,373.2)(1702,372.8)(1704,372.6)(1706,372.5)(1708,372.7)(1710,373.2)(1712,373.8)(1714,374.4)(1716,375.0)(1718,375.6)(1720,376.0)(1722,375.4)(1724,374.2)(1726,375.4)(1728,375.2)(1730,374.2)(1732,373.0)(1734,372.4)
(1746,369.2)(1747,368.2)(1748,367.6)(1749,367.2)(1750,369.8)(1751,370.4)(1752,370.8)(1754,371.0)(1756,370.9)(1758,370.8)(1760,370.7)(1762,370.6)(1764,370.5)(1766,370.3)(1768,370.1)(1770,370.0)
};
\addplot[expst] coordinates {
(1000,367.9)(1003,367.9)(1006,368.0)(1009,368.0)(1012,368.0)(1015,368.0)(1018,368.0)(1021,368.0)(1024,368.0)(1027,368.1)(1029,368.4)(1031,369.0)
(1033,369.6)(1034,370.0)(1035,370.8)(1036,371.6)(1037,372.4)(1038,373.2)(1039,372.6)(1040,371.8)(1041,371.0)(1042,370.3)(1043,371.2)(1044,372.0)(1045,372.8)(1046,372.0)(1047,371.2)(1048,370.5)(1049,369.8)(1050,370.6)(1051,371.4)(1052,372.2)(1053,371.4)(1054,370.6)(1055,370.0)(1056,370.4)
(1065,370.0)(1066,370.8)(1067,371.6)(1068,372.4)(1069,371.8)(1070,371.0)(1071,370.2)(1072,369.5)(1073,370.4)(1074,371.4)(1075,372.2)(1076,373.0)(1077,373.6)(1078,374.2)(1079,374.4)(1080,373.8)(1081,373.0)(1082,372.2)(1083,371.4)(1084,372.2)(1085,373.0)(1086,372.0)
(1088,369.5)(1089,370.2)(1090,371.0)(1091,371.8)(1092,371.2)(1093,370.4)(1094,369.8)(1095,370.6)(1096,371.4)(1097,372.2)(1098,371.6)(1099,370.8)(1100,370.2)(1101,371.0)(1102,371.8)(1104,371.2)(1105,370.5)(1106,371.4)(1107,372.0)(1108,371.3)(1110,370.6)(1112,371.5)(1113,372.3)(1114,371.6)(1115,370.8)(1116,370.2)(1117,371.0)(1118,371.8)(1119,372.4)(1120,371.6)(1121,370.8)(1122,370.0)(1123,369.6)(1124,370.4)(1125,369.5)(1126,369.3)
(1140,370.6)(1141,371.4)(1142,372.1)(1143,371.4)(1144,370.6)(1146,370.0)(1148,369.9)(1149,370.3)
(1152,371.0)(1154,371.8)(1155,372.6)(1156,373.2)(1157,373.8)(1158,374.4)(1159,375.0)(1160,375.7)(1161,375.2)(1162,374.5)(1163,373.8)(1164,373.0)(1165,373.6)(1166,374.2)(1167,373.4)(1168,372.6)(1169,373.2)(1170,373.8)(1171,373.0)(1172,372.3)(1173,371.7)(1174,372.5)(1175,373.0)(1176,372.4)(1177,371.8)(1178,372.6)(1179,373.2)(1180,372.4)
(1181,371.6)(1182,370.9)(1183,371.5)(1184,372.2)(1185,372.8)(1186,373.4)(1187,372.6)(1188,371.8)(1189,371.0)(1190,370.4)(1191,370.9)(1192,371.5)(1193,372.0)(1194,372.6)(1195,373.0)
(1196,372.8)(1198,372.0)(1200,371.4)(1202,370.8)(1204,370.6)(1206,371.2)(1208,371.5)(1210,371.0)(1212,370.6)(1214,370.8)(1216,370.6)(1218,370.4)(1220,370.3)(1222,370.4)(1224,370.2)(1226,370.1)(1228,370.2)(1230,370.0)(1232,370.1)(1234,370.0)(1236,369.9)(1238,370.0)(1240,369.9)(1242,369.8)(1244,369.9)(1246,369.8)(1248,369.8)(1250,369.8)(1252,369.9)(1254,369.8)(1256,369.8)(1258,369.9)(1260,369.8)(1262,369.8)(1264,369.9)(1266,369.9)(1268,369.8)(1270,369.9)(1272,370.0)(1274,370.2)(1276,370.6)(1278,371.0)(1280,371.4)(1282,371.6)(1284,371.5)(1286,371.1)(1288,370.6)(1290,370.2)(1292,370.0)(1294,370.1)(1296,370.5)(1298,371.0)(1300,371.4)(1302,371.6)(1304,371.4)(1306,371.0)(1308,370.5)(1310,370.1)(1312,369.9)(1314,370.1)(1316,370.6)(1318,371.1)(1320,371.5)(1322,371.6)(1324,371.3)(1325,372.2)(1326,373.0)(1327,372.5)(1328,371.8)(1330,370.0)(1332,370.1)(1334,370.5)(1336,371.0)(1338,371.4)(1340,371.5)(1342,371.2)(1344,370.8)
(1346,370.6)(1348,370.8)(1350,371.4)(1351,372.0)(1352,371.5)(1353,370.8)(1354,370.4)(1356,370.8)(1358,371.2)(1360,370.6)(1362,370.2)(1364,370.6)(1366,371.2)(1367,371.9)(1368,371.4)(1369,370.8)(1370,370.7)(1372,371.0)(1374,370.6)
(1380,369.6)(1381,370.4)(1382,371.2)(1383,372.0)(1384,372.8)(1385,373.0)(1386,372.4)(1387,371.6)(1388,370.8)(1389,370.0)(1390,370.6)(1391,371.4)(1392,372.2)(1393,373.0)(1394,373.8)(1395,374.5)(1396,373.6)(1397,372.6)(1398,371.6)(1399,370.8)(1400,370.1)(1401,370.6)
(1410,370.4)(1411,369.8)(1412,369.2)(1413,369.6)(1414,370.4)(1415,371.2)(1416,372.0)(1417,372.8)(1418,373.6)(1419,374.4)(1420,373.6)(1421,372.6)(1422,371.6)(1423,370.8)(1424,370.1)(1425,370.8)(1426,371.6)(1427,372.0)(1428,371.2)(1429,370.4)(1430,370.0)(1431,370.8)(1432,371.6)(1433,370.8)(1434,370.1)(1436,369.9)(1438,370.0)(1440,369.7)(1442,370.1)(1444,369.8)
(1452,367.7)(1455,367.8)(1458,367.8)(1461,367.9)(1464,367.9)(1467,368.0)(1470,368.0)(1473,368.0)(1476,368.1)(1479,368.2)(1482,368.4)
(1484,368.8)(1486,369.4)(1488,370.0)(1489,370.6)(1490,371.2)(1491,371.8)(1492,372.4)(1493,373.0)(1494,373.6)(1495,374.1)(1496,373.4)(1497,372.6)(1498,371.8)(1499,371.0)(1500,370.2)(1501,370.8)(1502,371.6)(1503,372.4)(1504,373.2)(1505,373.8)(1506,374.3)(1507,373.6)(1508,372.8)(1509,372.0)(1510,371.2)(1511,370.4)(1512,371.0)(1513,371.8)(1514,372.6)(1515,373.4)(1516,374.0)(1517,373.2)(1518,372.4)(1519,371.6)(1520,370.8)(1521,370.3)(1522,371.0)(1523,371.8)(1524,372.6)(1525,373.4)(1526,374.2)(1527,373.4)(1528,372.6)(1529,371.8)(1530,371.0)(1531,370.2)(1533,370.8)(1535,371.6)(1536,370.0)
(1538,371.4)(1539,372.2)(1540,373.0)(1541,373.8)(1542,374.6)(1543,375.4)(1544,375.0)(1545,374.2)(1546,373.4)(1547,372.6)(1548,373.6)(1549,374.6)(1550,375.4)(1551,375.7)(1552,375.0)(1553,374.2)(1554,373.4)(1555,372.6)(1556,371.8)(1557,371.0)(1558,370.7)(1559,371.6)(1560,372.6)(1561,373.6)(1562,374.6)(1563,375.2)(1564,375.6)(1565,375.0)(1566,374.2)(1567,373.4)(1568,372.6)(1569,373.4)(1570,374.2)(1571,375.0)(1572,375.6)(1573,375.2)(1574,374.4)(1575,373.6)(1576,372.8)(1577,372.3)(1578,373.0)(1579,373.8)(1580,374.6)(1581,375.0)
(1582,374.4)(1584,373.6)(1586,372.8)(1588,372.2)(1590,372.0)(1592,372.4)(1594,373.2)(1596,373.8)(1598,373.6)(1600,372.8)(1602,372.2)(1604,371.9)(1606,372.2)(1608,372.8)(1610,373.4)(1612,373.2)(1614,372.6)(1616,372.2)(1618,372.0)(1620,372.4)
(1622,373.0)(1623,373.8)(1624,374.6)(1625,375.4)(1626,375.6)(1627,374.8)(1628,374.0)(1629,373.2)(1630,372.4)(1631,371.6)(1632,370.9)(1633,370.3)(1634,370.8)(1635,371.4)(1636,370.1)(1637,371.0)(1638,371.8)(1639,372.4)(1640,371.8)(1641,371.2)(1642,372.0)(1643,372.6)(1644,373.2)
(1646,373.8)(1648,374.4)(1650,374.8)(1652,375.0)(1654,375.2)(1656,375.4)(1658,375.5)(1660,375.3)(1662,374.8)(1664,374.2)(1666,373.6)(1668,373.0)(1670,372.6)(1672,372.4)(1674,372.3)(1676,372.4)(1678,372.8)(1680,373.4)(1682,374.0)(1684,374.6)(1686,375.0)(1688,375.4)(1690,375.5)(1692,375.3)(1694,374.8)(1696,374.2)(1698,373.6)(1700,373.0)(1702,372.6)(1704,372.4)(1706,372.3)(1708,372.5)(1710,373.0)(1712,373.6)(1714,374.2)(1716,374.8)(1718,375.4)(1719,375.8)(1720,376.0)(1721,375.6)(1722,375.0)(1723,374.4)(1724,373.8)(1725,374.6)(1726,375.2)(1727,374.6)(1728,374.1)(1729,373.6)(1730,373.1)(1731,372.8)(1732,372.5)(1733,373.2)(1734,372.6)
(1746,369.2)(1747,368.8)(1748,369.2)(1749,369.6)(1750,370.0)(1751,370.3)(1752,370.5)(1753,370.6)(1754,370.6)(1756,370.5)(1758,370.5)(1760,370.4)(1762,370.3)(1764,370.2)(1766,370.0)(1768,369.8)(1770,369.9)
};
\end{axis}
\begin{axis}[spd, at={(106pt,111pt)}, xmin=1000, xmax=1800, ymin=0, ymax=350, ytick={0,70,140}]
\addplot[vst] coordinates {
(1000,0)(1025,0)(1030,19)(1036,42)(1042,52)(1048,54)(1053,42)(1060,12)(1065,19)(1071,37)(1079,63)(1085,58)(1091,61)(1097,58)(1101,63)(1106,61)(1111,68)(1116,69)(1122,58)(1126,37)(1133,19)(1140,12)(1145,26)(1149,12)(1153,14)(1158,37)(1163,68)(1172,86)(1181,93)(1195,93)(1204,97)(1221,96)(1239,91)(1256,82)(1274,79)(1291,75)(1306,74)(1320,72)(1326,82)(1343,80)(1349,82)(1358,65)(1366,61)(1372,56)(1381,28)(1390,54)(1395,52)(1401,33)(1407,28)(1416,30)(1422,42)(1427,40)(1433,28)(1439,21)(1445,19)(1450,0)(1477,0)(1485,33)(1494,51)(1503,58)(1511,65)(1518,72)(1526,61)(1533,65)(1540,91)(1549,96)(1558,105)(1566,117)(1575,124)(1584,121)(1595,114)(1607,107)(1616,112)(1623,117)(1630,107)(1639,105)(1650,112)(1662,121)(1674,126)(1688,127)(1706,128)(1714,131)(1723,131)(1729,124)(1737,98)(1749,89)(1761,84)(1769,70)(1778,47)(1787,23)(1795,0)(1800,0)
};
\end{axis}
% ================= TEXTS =================
\node[anchor=west, inner sep=0pt] at (115pt,721pt) {\rmse RMSE: \textcolor{rmseblue}{1.2}/1.1 deg};
\node[anchor=west, inner sep=0pt] at (338pt,721pt) {\rmse RMSE: \textcolor{rmseblue}{1.2}/1.3 deg};
\node[anchor=west, inner sep=0pt] at (112pt,343pt) {\rmse RMSE: \textcolor{rmseblue}{0.8}/1.1 deg};
\node[anchor=west, inner sep=0pt] at (345pt,343pt) {\rmse RMSE: \textcolor{rmseblue}{0.7}/0.8 deg};
\node[rotate=90] at (28pt,619pt) {\fontsize{25}{29}\selectfont\sffamily\bfseries MFB50 [deg]};
\node[rotate=90] at (28pt,236pt) {\fontsize{25}{29}\selectfont\sffamily\bfseries MFB50 [deg]};
\node[rotate=-90] at (632pt,619pt) {\fontsize{25}{29}\selectfont\sffamily\bfseries V [km/h]};
\node[rotate=-90] at (632pt,236pt) {\fontsize{25}{29}\selectfont\sffamily\bfseries V [km/h]};
\node at (335pt,443pt) {\fontsize{25}{29}\selectfont\sffamily\bfseries t [s]};
\node at (335pt,54pt) {\fontsize{25}{29}\selectfont\sffamily\bfseries t [s]};
\node at (322pt,406pt) {\capf (a)\ \ WLTP: low and medium phases};
\node at (342pt,17pt) {\capf (b)\ \ WLTP: high and extra-high phases};
\end{tikzpicture}
\end{document}
